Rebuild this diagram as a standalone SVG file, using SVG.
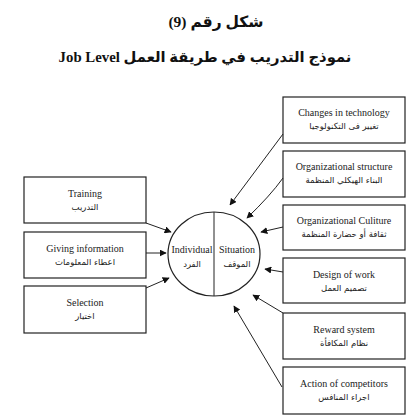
<svg xmlns="http://www.w3.org/2000/svg" width="412" height="420" viewBox="0 0 412 420">
<style>
.box{fill:#fff;stroke:#222;stroke-width:1.2}
.en{font-family:"Liberation Serif","DejaVu Serif",serif;font-size:10px;fill:#222;text-anchor:middle}
.ar{font-family:"DejaVu Sans","Noto Sans",sans-serif;font-size:8.5px;fill:#222;text-anchor:middle}
.title{font-family:"Liberation Serif","DejaVu Sans",serif;font-weight:bold;fill:#111;text-anchor:middle}
.con{fill:none;stroke:#222;stroke-width:1}
</style>
<defs>
<marker id="arr" viewBox="0 0 10 10" refX="9" refY="5" markerWidth="7" markerHeight="7" orient="auto" markerUnits="userSpaceOnUse">
<path d="M0,0 L10,5 L0,10 z" fill="#111"/>
</marker>
</defs>
<rect width="412" height="420" fill="#fff"/>
<g id="title">
<text class="title" x="216" y="27" font-size="15.5">(9) شكل رقم</text>
<text class="title" x="205" y="62" font-size="14.8">Job Level نموذج التدريب في طريقة العمل</text>
</g>
<g id="center">
<ellipse cx="214" cy="254" rx="46" ry="42" fill="#fff" stroke="#222" stroke-width="1.2"/>
<line x1="214" y1="212" x2="214" y2="296" stroke="#222" stroke-width="1"/>
<text class="en" x="192" y="253">Individual</text>
<text class="ar" x="192" y="267">الفرد</text>
<text class="en" x="237" y="253">Situation</text>
<text class="ar" x="237" y="267">الموقف</text>
</g>
<g id="training">
<rect class="box" x="24" y="177" width="122" height="46"/>
<text class="en" x="85" y="197">Training</text>
<text class="ar" x="85" y="210">التدريب</text>
</g>
<g id="giving">
<rect class="box" x="24" y="232" width="122" height="46"/>
<text class="en" x="85" y="252">Giving information</text>
<text class="ar" x="85" y="265">اعطاء المعلومات</text>
</g>
<g id="selection">
<rect class="box" x="24" y="286" width="122" height="47"/>
<text class="en" x="85" y="306">Selection</text>
<text class="ar" x="85" y="319">اختيار</text>
</g>
<g id="changes">
<rect class="box" x="283" y="97" width="122" height="46"/>
<text class="en" x="344" y="116">Changes in technology</text>
<text class="ar" x="344" y="129">تغيير فى التكنولوجيا</text>
</g>
<g id="structure">
<rect class="box" x="283" y="151" width="122" height="46"/>
<text class="en" x="344" y="170">Organizational structure</text>
<text class="ar" x="344" y="183">البناء الهيكلي المنظمة</text>
</g>
<g id="culture">
<rect class="box" x="283" y="205" width="122" height="45"/>
<text class="en" x="344" y="224">Organizational Culiture</text>
<text class="ar" x="344" y="237">ثقافة أو حضارة المنظمة</text>
</g>
<g id="design">
<rect class="box" x="283" y="258" width="122" height="45"/>
<text class="en" x="344" y="278">Design of work</text>
<text class="ar" x="344" y="291">تصميم العمل</text>
</g>
<g id="reward">
<rect class="box" x="283" y="313" width="122" height="46"/>
<text class="en" x="344" y="333">Reward system</text>
<text class="ar" x="344" y="346">نظام المكافأة</text>
</g>
<g id="action">
<rect class="box" x="283" y="367" width="122" height="47"/>
<text class="en" x="344" y="387">Action of competitors</text>
<text class="ar" x="344" y="400">اجراء المنافس</text>
</g>
<g id="connectors">
<path class="con" marker-end="url(#arr)" d="M146,223 L171,232"/>
<path class="con" marker-end="url(#arr)" d="M146,253 L166,253"/>
<path class="con" marker-end="url(#arr)" d="M146,288 L169,278"/>
<path class="con" marker-end="url(#arr)" d="M283,134 L230,205"/>
<path class="con" marker-end="url(#arr)" d="M283,178 Q270,196 247,218"/>
<path class="con" marker-end="url(#arr)" d="M283,227 L261,232"/>
<path class="con" marker-end="url(#arr)" d="M283,272 L265,269"/>
<path class="con" marker-end="url(#arr)" d="M283,313 L253,295"/>
<path class="con" marker-end="url(#arr)" d="M282,387 L234,306"/>
</g>
</svg>
